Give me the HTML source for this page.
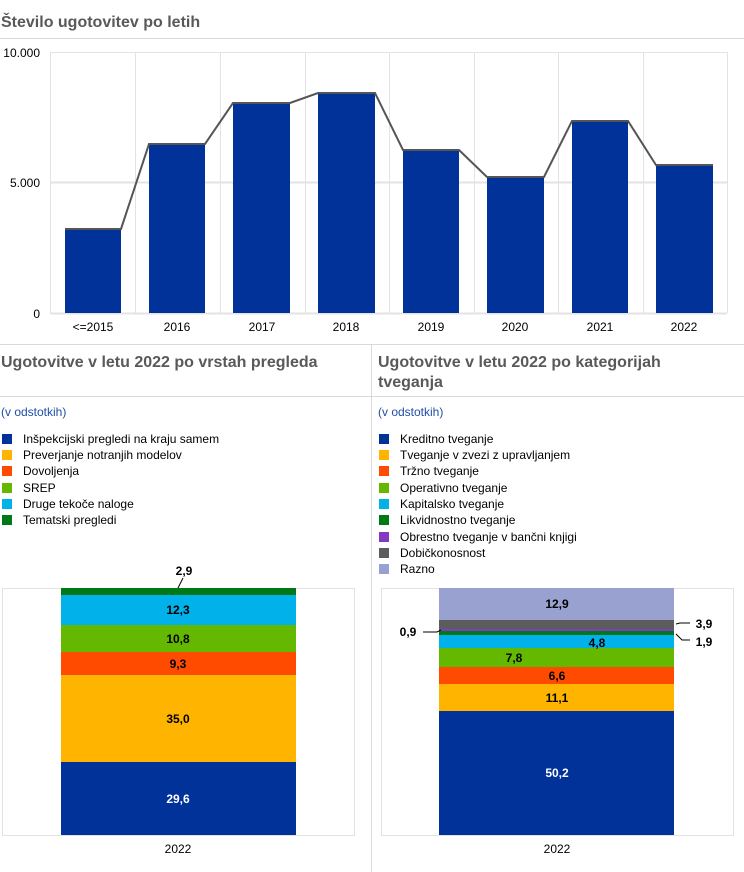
<!DOCTYPE html>
<html><head><meta charset="utf-8"><style>
body{margin:0;background:#fff;width:744px;height:872px;overflow:hidden;font-family:"Liberation Sans",Arial,sans-serif}
svg{display:block}
</style></head><body>
<svg width="744" height="872" xmlns="http://www.w3.org/2000/svg" font-family="Liberation Sans, Arial, sans-serif">
<text x="1" y="27" font-size="16" font-weight="bold" fill="#595959">Število ugotovitev po letih</text>
<line x1="0" y1="38.5" x2="744" y2="38.5" stroke="#d9d9d9"/>
<g stroke="#e3e3e3" stroke-width="1">
<line x1="50" y1="52.5" x2="727" y2="52.5"/><line x1="50" y1="182.5" x2="727" y2="182.5" stroke-width="2"/><line x1="50" y1="313.5" x2="727" y2="313.5" stroke-width="2"/>
<line x1="50.5" y1="52" x2="50.5" y2="313"/><line x1="135.5" y1="52" x2="135.5" y2="313"/><line x1="220.5" y1="52" x2="220.5" y2="313"/><line x1="305.5" y1="52" x2="305.5" y2="313"/><line x1="389.5" y1="52" x2="389.5" y2="313"/><line x1="474.5" y1="52" x2="474.5" y2="313"/><line x1="558.5" y1="52" x2="558.5" y2="313"/><line x1="643.5" y1="52" x2="643.5" y2="313"/><line x1="727.5" y1="52" x2="727.5" y2="313"/>
</g>
<g font-size="12" fill="#000" text-anchor="end"><text x="40" y="57">10.000</text><text x="40" y="187">5.000</text><text x="40" y="318">0</text></g>
<g fill="#003299">
<rect x="65" y="229" width="56" height="84"/><rect x="149" y="144" width="56" height="169"/><rect x="233" y="103" width="57" height="210"/><rect x="318" y="93" width="57" height="220"/><rect x="403" y="150" width="56" height="163"/><rect x="487" y="177" width="57" height="136"/><rect x="572" y="121" width="56" height="192"/><rect x="656" y="165" width="57" height="148"/>
</g>
<polyline fill="none" stroke="#555" stroke-width="2" points="65,229 121,229 149,144 205,144 233,103 290,103 318,93 375,93 403,150 459,150 487,177 544,177 572,121 628,121 656,165 713,165"/>
<g font-size="12" fill="#000" text-anchor="middle"><text x="93" y="331">&lt;=2015</text><text x="177" y="331">2016</text><text x="262" y="331">2017</text><text x="346" y="331">2018</text><text x="431" y="331">2019</text><text x="515" y="331">2020</text><text x="600" y="331">2021</text><text x="684" y="331">2022</text></g>

<line x1="0" y1="344.5" x2="744" y2="344.5" stroke="#d9d9d9"/>
<line x1="0" y1="396.5" x2="744" y2="396.5" stroke="#d9d9d9"/>
<line x1="371.5" y1="344" x2="371.5" y2="872" stroke="#d9d9d9"/>
<text x="1" y="367" font-size="16" font-weight="bold" fill="#595959">Ugotovitve v letu 2022 po vrstah pregleda</text>
<text x="378" y="367" font-size="16" font-weight="bold" fill="#595959">Ugotovitve v letu 2022 po kategorijah</text>
<text x="378" y="387" font-size="16" font-weight="bold" fill="#595959">tveganja</text>
<text x="1" y="416" font-size="12" fill="#1f4ea6">(v odstotkih)</text>
<text x="378" y="416" font-size="12" fill="#1f4ea6">(v odstotkih)</text>

<g font-size="12" fill="#000">
<rect x="2" y="434" width="10" height="10" fill="#003299"/><text x="23" y="443">Inšpekcijski pregledi na kraju samem</text>
<rect x="2" y="450" width="10" height="10" fill="#ffb400"/><text x="23" y="459">Preverjanje notranjih modelov</text>
<rect x="2" y="466" width="10" height="10" fill="#ff4b00"/><text x="23" y="475">Dovoljenja</text>
<rect x="2" y="483" width="10" height="10" fill="#65b800"/><text x="23" y="492">SREP</text>
<rect x="2" y="499" width="10" height="10" fill="#00b1ea"/><text x="23" y="508">Druge tekoče naloge</text>
<rect x="2" y="515" width="10" height="10" fill="#007816"/><text x="23" y="524">Tematski pregledi</text>

<rect x="379" y="434" width="10" height="10" fill="#003299"/><text x="400" y="443">Kreditno tveganje</text>
<rect x="379" y="450" width="10" height="10" fill="#ffb400"/><text x="400" y="459">Tveganje v zvezi z upravljanjem</text>
<rect x="379" y="466" width="10" height="10" fill="#ff4b00"/><text x="400" y="475">Tržno tveganje</text>
<rect x="379" y="483" width="10" height="10" fill="#65b800"/><text x="400" y="492">Operativno tveganje</text>
<rect x="379" y="499" width="10" height="10" fill="#00b1ea"/><text x="400" y="508">Kapitalsko tveganje</text>
<rect x="379" y="515" width="10" height="10" fill="#007816"/><text x="400" y="524">Likvidnostno tveganje</text>
<rect x="379" y="532" width="10" height="10" fill="#8139c6"/><text x="400" y="541">Obrestno tveganje v bančni knjigi</text>
<rect x="379" y="548" width="10" height="10" fill="#5c5c5c"/><text x="400" y="557">Dobičkonosnost</text>
<rect x="379" y="564" width="10" height="10" fill="#98a1d0"/><text x="400" y="573">Razno</text>
</g>

<rect x="2.5" y="588.5" width="352" height="247" fill="none" stroke="#e3e3e3"/>
<rect x="381.5" y="588.5" width="352" height="247" fill="none" stroke="#e3e3e3"/>

<rect x="61" y="588" width="235" height="7" fill="#007816"/>
<rect x="61" y="595" width="235" height="30" fill="#00b1ea"/>
<rect x="61" y="625" width="235" height="27" fill="#65b800"/>
<rect x="61" y="652" width="235" height="23" fill="#ff4b00"/>
<rect x="61" y="675" width="235" height="87" fill="#ffb400"/>
<rect x="61" y="762" width="235" height="73" fill="#003299"/>
<g font-size="12" font-weight="bold" text-anchor="middle" fill="#000">
<text x="178" y="614">12,3</text><text x="178" y="643">10,8</text><text x="178" y="668">9,3</text><text x="178" y="723">35,0</text><text x="178" y="803" fill="#fff">29,6</text>
<text x="184" y="575">2,9</text>
</g>
<line x1="183" y1="578" x2="178" y2="588" stroke="#000"/>

<rect x="439" y="588" width="235" height="32" fill="#98a1d0"/>
<rect x="439" y="620" width="235" height="9" fill="#5c5c5c"/>
<rect x="439" y="629" width="235" height="2" fill="#8139c6"/>
<rect x="439" y="631" width="235" height="4" fill="#007816"/>
<rect x="439" y="635" width="235" height="13" fill="#00b1ea"/>
<rect x="439" y="648" width="235" height="19" fill="#65b800"/>
<rect x="439" y="667" width="235" height="17" fill="#ff4b00"/>
<rect x="439" y="684" width="235" height="27" fill="#ffb400"/>
<rect x="439" y="711" width="235" height="124" fill="#003299"/>
<g font-size="12" font-weight="bold" text-anchor="middle" fill="#000">
<text x="557" y="608">12,9</text><text x="597" y="647">4,8</text><text x="514" y="662">7,8</text><text x="557" y="680">6,6</text><text x="557" y="702">11,1</text><text x="557" y="777" fill="#fff">50,2</text>
<text x="408" y="636">0,9</text><text x="704" y="628">3,9</text><text x="704" y="646">1,9</text>
</g>
<polyline points="423,632 437,632 441,630" fill="none" stroke="#000"/>
<polyline points="676,624 680,623 690,623" fill="none" stroke="#000"/>
<polyline points="676,634 682,640 690,640" fill="none" stroke="#000"/>

<text x="178" y="853" font-size="12" text-anchor="middle">2022</text>
<text x="557" y="853" font-size="12" text-anchor="middle">2022</text>
</svg>
</body></html>
